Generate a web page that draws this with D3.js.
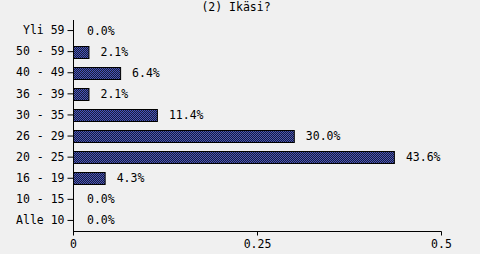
<!DOCTYPE html>
<html>
<head>
<meta charset="utf-8">
<script src="https://cdn.jsdelivr.net/npm/d3@7"></script>
<style>
  body { margin: 0; background: #f0f0f0; }
  text { font-family: "DejaVu Sans Mono", monospace; font-size: 11.5px; fill: #000; }
</style>
</head>
<body>
<script>
let title = "(2) Ikäsi?";
let categories = ["Yli 59", "50 - 59", "40 - 49", "36 - 39", "30 - 35", "26 - 29", "20 - 25", "16 - 19", "10 - 15", "Alle 10"];
let values = [0.0, 0.021, 0.064, 0.021, 0.114, 0.300, 0.436, 0.043, 0.0, 0.0];
let xTicks = [0, 0.25, 0.5];

let w = 480, h = 254;
let margin = {left: 73, right: 39, top: 20, bottom: 23};

let svg = d3.select("body").append("svg").attr("width", w).attr("height", h);

// checker fill used by the bars
let pat = svg.append("defs").append("pattern")
  .attr("id", "chk").attr("width", 2).attr("height", 2)
  .attr("patternUnits", "userSpaceOnUse");
pat.append("rect").attr("width", 2).attr("height", 2).attr("fill", "#1a1d38");
pat.append("rect").attr("width", 1).attr("height", 1).attr("fill", "#4654bc");
pat.append("rect").attr("x", 1).attr("y", 1).attr("width", 1).attr("height", 1).attr("fill", "#4654bc");

let x = d3.scaleLinear().domain([0, 0.5]).range([margin.left, w - margin.right]);
let y = d3.scaleBand().domain(categories).range([margin.top, h - margin.bottom]);

svg.append("text").attr("x", 236).attr("y", 11).attr("text-anchor", "middle").text(title);

let rows = categories.map((c, i) => ({c: c, v: values[i]}));
let g = svg.append("g");

g.selectAll("rect.bar").data(rows.filter(d => d.v > 0))
  .enter().append("rect").attr("class", "bar")
  .attr("x", x(0) + 0.5)
  .attr("y", d => Math.round(y(d.c) + y.bandwidth() / 2 - 6) + 0.5)
  .attr("width", d => x(d.v) - x(0))
  .attr("height", 12)
  .attr("fill", "url(#chk)").attr("stroke", "#000").attr("stroke-width", 1);

g.selectAll("text.val").data(rows).enter().append("text")
  .attr("class", "val")
  .attr("x", d => d.v > 0 ? x(d.v) + 12 : x(0) + 14)
  .attr("y", d => y(d.c) + y.bandwidth() / 2 + 4)
  .text(d => (d.v * 100).toFixed(1) + "%");

let yAxis = d3.axisLeft(y).tickSize(6).tickPadding(3);
let ya = svg.append("g").attr("transform", "translate(" + (margin.left + 0.5) + ",0)").call(yAxis);
ya.select(".domain").attr("d", "M0," + margin.top + "V" + (h - margin.bottom + 0.5));
ya.selectAll("text").attr("font-size", null).attr("font-family", null);

let xAxis = d3.axisBottom(x).tickValues(xTicks).tickFormat(d => String(d)).tickSize(4).tickPadding(4);
let xa = svg.append("g").attr("transform", "translate(0," + (h - margin.bottom + 0.5) + ")").call(xAxis);
xa.select(".domain").attr("d", "M" + margin.left + ",0H" + (w - margin.right + 0.5));
xa.selectAll("text").attr("font-size", null).attr("font-family", null);

svg.selectAll(".domain, .tick line").attr("stroke", "#000");
</script>
</body>
</html>
